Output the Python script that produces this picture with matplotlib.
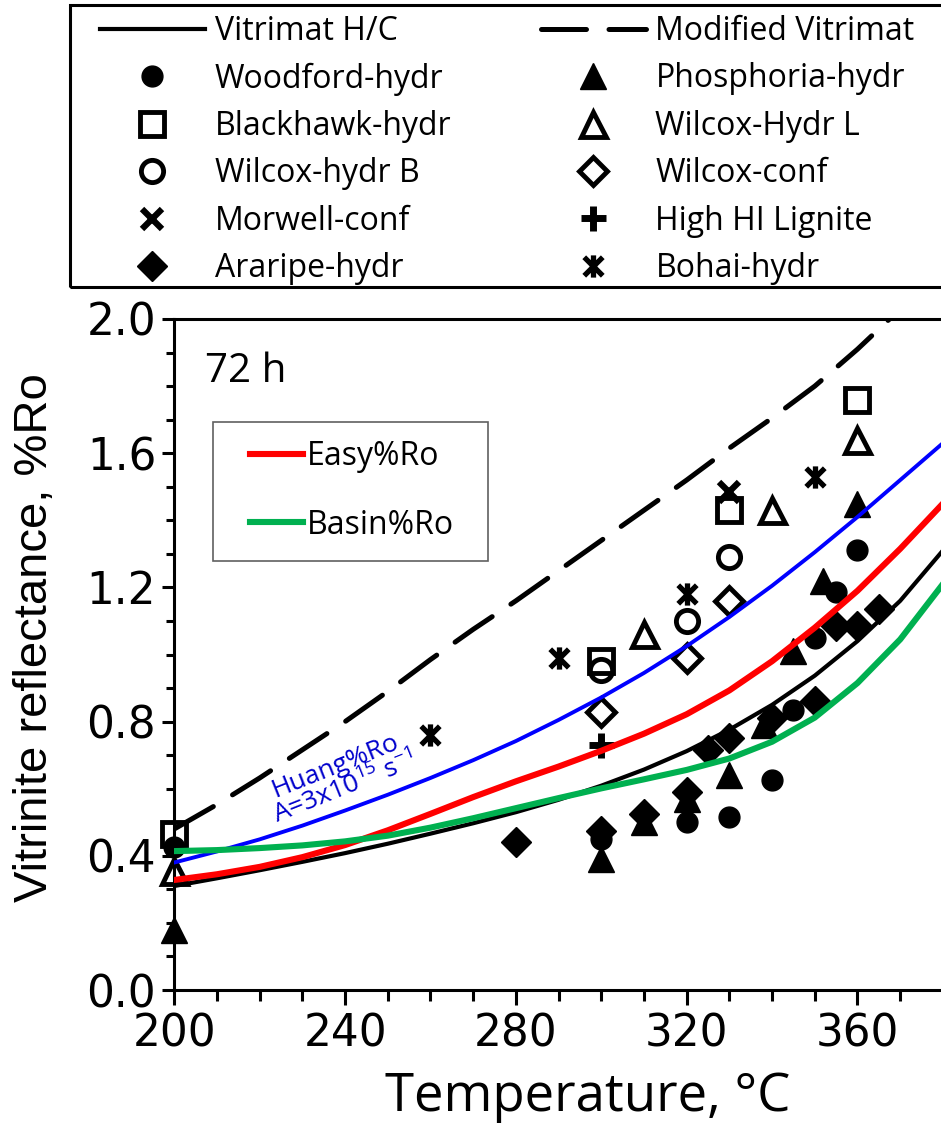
import matplotlib
matplotlib.use("Agg")
import matplotlib.pyplot as plt
from matplotlib.patches import Rectangle
from matplotlib.path import Path
from matplotlib.ticker import MultipleLocator

plt.rcParams["font.family"] = ["Open Sans", "DejaVu Sans"]
plt.rcParams["mathtext.default"] = "regular"

# ---- model curves (10 °C steps) --------------------------------------------
temp_grid = [200, 210, 220, 230, 240, 250, 260, 270, 280, 290,
             300, 310, 320, 330, 340, 350, 360, 370, 380]
vitrimat_hc = [0.31, 0.333, 0.357, 0.382, 0.408, 0.436, 0.466, 0.497, 0.53, 0.567,
               0.609, 0.657, 0.712, 0.776, 0.85, 0.937, 1.04, 1.16, 1.31]
modified_vitrimat = [0.48, 0.553, 0.632, 0.716, 0.80, 0.89, 0.985, 1.075, 1.16, 1.25,
                     1.34, 1.43, 1.52, 1.615, 1.705, 1.80, 1.91, 2.03, 2.15]
easy_ro = [0.328, 0.345, 0.367, 0.396, 0.432, 0.476, 0.525, 0.575, 0.622, 0.666,
           0.713, 0.764, 0.822, 0.893, 0.98, 1.08, 1.19, 1.315, 1.45]
basin_ro = [0.414, 0.417, 0.423, 0.431, 0.443, 0.46, 0.484, 0.512, 0.542, 0.572,
            0.601, 0.628, 0.656, 0.69, 0.74, 0.812, 0.915, 1.045, 1.21]
huang_ro = [0.38, 0.413, 0.449, 0.49, 0.535, 0.582, 0.632, 0.685, 0.742, 0.805,
            0.872, 0.945, 1.025, 1.112, 1.205, 1.305, 1.41, 1.52, 1.63]

# ---- measured samples ------------------------------------------------------
woodford_t = [200, 300, 320, 330, 340, 345, 350, 355, 360]
woodford_ro = [0.425, 0.45, 0.50, 0.515, 0.625, 0.835, 1.05, 1.185, 1.31]
phosphoria_t = [200, 300, 310, 320, 330, 338, 345, 352, 360]
phosphoria_ro = [0.18, 0.39, 0.50, 0.57, 0.64, 0.79, 1.01, 1.22, 1.45]
blackhawk_t = [200, 300, 330, 360]
blackhawk_ro = [0.465, 0.98, 1.43, 1.76]
wilcox_l_t = [200, 310, 340, 360]
wilcox_l_ro = [0.355, 1.06, 1.43, 1.64]
wilcox_b_t = [300, 320, 330]
wilcox_b_ro = [0.955, 1.10, 1.29]
wilcox_conf_t = [300, 320, 330]
wilcox_conf_ro = [0.83, 0.99, 1.16]
morwell_t = [330]
morwell_ro = [1.485]
lignite_t = [300]
lignite_ro = [0.73]
araripe_t = [280, 300, 310, 320, 325, 330, 340, 350, 355, 360, 365]
araripe_ro = [0.44, 0.475, 0.525, 0.59, 0.715, 0.75, 0.81, 0.86, 1.085, 1.085, 1.135]
bohai_t = [260, 290, 320, 350]
bohai_ro = [0.76, 0.99, 1.18, 1.53]

# asterisk with a vertical bar, like the Excel marker
ASTER = Path([(-1, -1), (1, 1), (-1, 1), (1, -1), (0, -1.2), (0, 1.2)],
             [Path.MOVETO, Path.LINETO, Path.MOVETO, Path.LINETO,
              Path.MOVETO, Path.LINETO])

W, H = 941, 1123
X0, X1, Y0, Y1 = 174.3, 941, 990, 319        # plot area in pixels
fig = plt.figure(figsize=(W / 100, H / 100), dpi=100)
ax = fig.add_axes([X0 / W, 1 - Y0 / H, (X1 - X0) / W, (Y0 - Y1) / H])

mk = dict(ls="none", color="black", zorder=3, clip_on=False)
h_wood, = ax.plot(woodford_t, woodford_ro, marker="o", ms=15, **mk)
h_phos, = ax.plot(phosphoria_t, phosphoria_ro, marker="^", ms=19, **mk)
h_black, = ax.plot(blackhawk_t, blackhawk_ro, marker="s", ms=17, mfc="none", mew=3.5, **mk)
h_wl, = ax.plot(wilcox_l_t, wilcox_l_ro, marker="^", ms=18, mfc="none", mew=3.5, **mk)
h_wb, = ax.plot(wilcox_b_t, wilcox_b_ro, marker="o", ms=16, mfc="none", mew=3.5, **mk)
h_wc, = ax.plot(wilcox_conf_t, wilcox_conf_ro, marker="D", ms=14, mfc="none", mew=3.5, **mk)
h_mor, = ax.plot(morwell_t, morwell_ro, marker="x", ms=15, mew=4.5, **mk)
h_lig, = ax.plot(lignite_t, lignite_ro, marker="+", ms=18, mew=5, **mk)
h_ara, = ax.plot(araripe_t, araripe_ro, marker="D", ms=15, **mk)
h_boh, = ax.plot(bohai_t, bohai_ro, marker=ASTER, ms=16, mew=3.8, **mk)

h_vit, = ax.plot(temp_grid, vitrimat_hc, color="black", lw=3, zorder=4)
h_mod, = ax.plot(temp_grid, modified_vitrimat, color="black", lw=3.6,
                 dashes=(9, 4.5), dash_capstyle="round", zorder=4)
ax.plot(temp_grid, huang_ro, color="#0000ff", lw=2.8, zorder=4)
h_easy, = ax.plot(temp_grid, easy_ro, color="#ff0000", lw=4.4, zorder=4)
h_basin, = ax.plot(temp_grid, basin_ro, color="#00b050", lw=4.4, zorder=4)

ax.set_xlim(200, 200 + (X1 - X0) / 4.27)
ax.set_ylim(0, 2.0)
ax.set_xticks([200, 240, 280, 320, 360])
ax.set_yticks([0.0, 0.4, 0.8, 1.2, 1.6, 2.0])
ax.set_yticklabels([f"{v:.1f}" for v in [0.0, 0.4, 0.8, 1.2, 1.6, 2.0]])
ax.xaxis.set_minor_locator(MultipleLocator(10))
ax.yaxis.set_minor_locator(MultipleLocator(0.1))
ax.tick_params(axis="x", which="major", direction="out", length=11, width=2.2, pad=5)
ax.tick_params(axis="x", which="minor", direction="out", length=8, width=2.2)
ax.tick_params(axis="y", which="major", direction="out", length=9, width=2.2, pad=4)
ax.tick_params(axis="y", which="minor", direction="out", length=6, width=2.2)
for lab in ax.get_xticklabels() + ax.get_yticklabels():
    lab.set_family(["DejaVu Sans"])
    lab.set_fontsize(31.5)
for side in ("left", "bottom", "top"):
    ax.spines[side].set_linewidth(2.2)
ax.spines["right"].set_visible(False)

ax.set_xlabel("Temperature, °C", fontsize=38, va="center")
ax.xaxis.set_label_coords((588 - X0) / (X1 - X0), (Y0 - 1097) / (Y0 - Y1))
ax.set_ylabel("Vitrinite reflectance, %Ro", fontsize=34, va="center",
              family=["Liberation Sans Narrow", "Liberation Sans", "DejaVu Sans"])
ax.yaxis.set_label_coords((35 - X0) / (X1 - X0), (Y0 - 638) / (Y0 - Y1))

ax.text(0.04, 0.921, "72 h", transform=ax.transAxes, fontsize=29,
        ha="left", va="center")
ax.text(238.8, 0.632, "Huang%Ro\nA=3x10$^{15}$ s$^{-1}$", color="#0000cc",
        fontsize=19, rotation=21.8, rotation_mode="anchor", ha="center",
        va="center", multialignment="center", linespacing=0.9)

# inner legend: frame drawn separately so the padding matches
ax.add_patch(Rectangle(((213 - X0) / (X1 - X0), (Y0 - 561) / (Y0 - Y1)),
                       275 / (X1 - X0), 139 / (Y0 - Y1), transform=ax.transAxes,
                       fill=True, fc="white", ec="#606060", lw=1.2, zorder=5))
inner = ax.legend([h_easy, h_basin], ["Easy%Ro", "Basin%Ro"], loc="center left",
                  bbox_to_anchor=((250 - X0) / (X1 - X0), (Y0 - 491) / (Y0 - Y1)),
                  borderaxespad=0, borderpad=0, fontsize=23, frameon=False,
                  handlelength=1.66, handletextpad=0.12, labelspacing=1.1)
inner.set_zorder(6)

# top legend, frame drawn separately (it runs off the right edge)
fig.patches.append(Rectangle((70 / W, 1 - 287 / H), 900 / W, 282 / H,
                             transform=fig.transFigure, fill=False,
                             ec="black", lw=2.2))
top_handles = [h_vit, h_wood, h_black, h_wb, h_mor, h_ara,
               h_mod, h_phos, h_wl, h_wc, h_lig, h_boh]
top_labels = ["Vitrimat H/C", "Woodford-hydr", "Blackhawk-hydr", "Wilcox-hydr B",
              "Morwell-conf", "Araripe-hydr",
              "Modified Vitrimat", "Phosphoria-hydr", "Wilcox-Hydr L", "Wilcox-conf",
              "High HI Lignite", "Bohai-hydr"]
fig.legend(top_handles, top_labels, ncol=2, loc="upper left",
           bbox_to_anchor=(100 / W, 1 - 15 / H), borderaxespad=0, borderpad=0,
           fontsize=23, frameon=False, handlelength=3.28, handletextpad=0.31,
           labelspacing=0.45, columnspacing=2.8)

fig.savefig("out.png", dpi=100)
